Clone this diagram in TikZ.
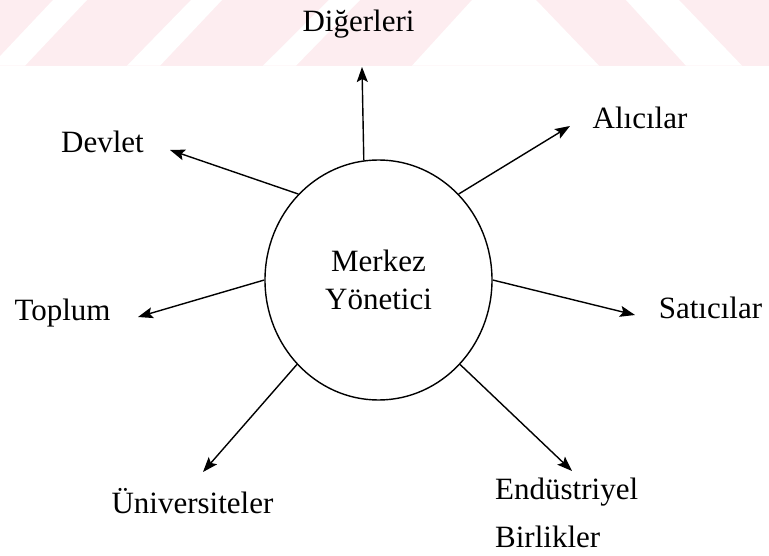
\documentclass[tikz,border=0pt]{standalone}
\usepackage{fontspec}
\setmainfont{Liberation Serif}
\usetikzlibrary{arrows.meta,shapes.geometric}
\definecolor{wmpink}{RGB}{253,237,240}
\begin{document}
\begin{tikzpicture}[x=1pt,y=-1pt,
  lbl/.style={font=\fontsize{31}{48}\selectfont, inner sep=0pt, anchor=base},
  hub/.style={ellipse, draw, line width=1.4pt, minimum width=227pt,
    minimum height=240pt, inner sep=0pt, align=center,
    font=\fontsize{31}{38}\selectfont},
  arr/.style={line width=1.4pt, -{Stealth[length=15pt,width=11pt,inset=3pt]}}]
\useasboundingbox (0,0) rectangle (769,556);

% striped band across the top
\fill[wmpink] (0,0) rectangle (769,65.7);
\fill[white] (53,0) -- (87,0) -- (25,65.7) -- (-9,65.7) -- cycle;
\fill[white] (191,0) -- (222,0) -- (160,65.7) -- (127,65.7) -- cycle;
\fill[white] (329,0) -- (360,0) -- (296,65.7) -- (263,65.7) -- cycle;
\fill[white] (472,0) -- (536,0) -- (599,65.7) -- (412,65.7) -- cycle;
\fill[white] (626,0) -- (679,0) -- (742,65.7) -- (686,65.7) -- cycle;

% central actor
\node[hub] (m) at (378.5,280) {Merkez\\Yönetici};

% surrounding stakeholders
\node[lbl] (dig) at (358.5,32) {Diğerleri};
\node[lbl] (ali) at (640,129) {Alıcılar};
\node[lbl] (dev) at (102.5,153) {Devlet};
\node[lbl] (top) at (62.5,320) {Toplum};
\node[lbl] (sat) at (710.5,319) {Satıcılar};
\node[lbl] (uni) at (192.5,513) {Üniversiteler};
\node[lbl, anchor=base west, align=left] (end) at (495,547) {Endüstriyel\\Birlikler};

% arrow tips next to each label
\coordinate (tDig) at (362,67);
\coordinate (tAli) at (570,126);
\coordinate (tDev) at (170,150);
\coordinate (tTop) at (138,317);
\coordinate (tSat) at (635,315);
\coordinate (tEnd) at (572,471);
\coordinate (tUni) at (203,472);

\draw[arr] (m.97.8) -- (tDig);
\draw[arr] (m.47.2) -- (tAli);
\draw[arr] (m.133.8) -- (tDev);
\draw[arr] (m.180.5) -- (tTop);
\draw[arr] (m.-0.5) -- (tSat);
\draw[arr] (m.-46.9) -- (tEnd);
\draw[arr] (m.226.9) -- (tUni);
\end{tikzpicture}
\end{document}
